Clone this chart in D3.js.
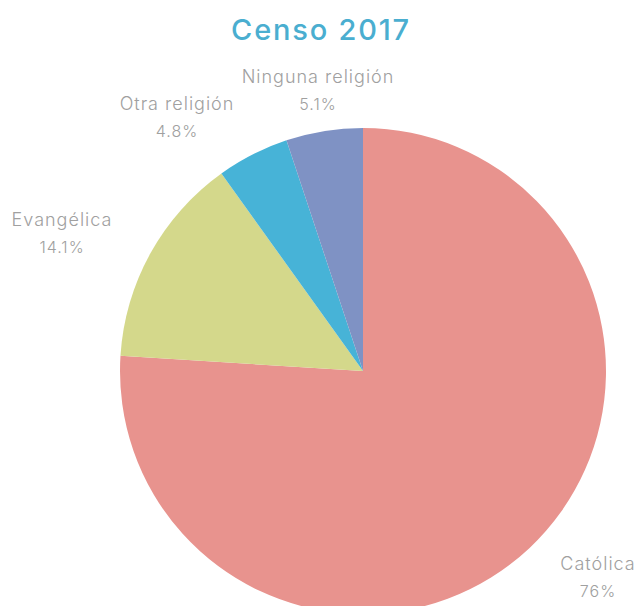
<!DOCTYPE html>
<html><head><meta charset="utf-8">
<script src="https://cdn.jsdelivr.net/npm/d3@7"></script>
<style>html,body{margin:0;padding:0;background:#fff;}svg{display:block;}</style>
</head><body>
<svg id="chart" width="639" height="606"></svg>
<script>
const categories = ["Católica", "Evangélica", "Otra religión", "Ninguna religión"];
const values = [76, 14.1, 4.8, 5.1];
const valueLabels = ["76%", "14.1%", "4.8%", "5.1%"];
const colors = ["#e8938e", "#d4d88b", "#47b3d7", "#7f92c4"];
const titleText = "Censo 2017";

const svg = d3.select("#chart");
const cx = 363, cy = 371, r = 243;
const font = "Inter, 'Open Sans', sans-serif";

svg.append("text").attr("x", 321).attr("y", 40)
  .attr("text-anchor", "middle").attr("font-family", font)
  .attr("font-size", 29).attr("font-weight", 500).attr("letter-spacing", 1.8)
  .attr("fill", "#4aaed0")
  .text(titleText);

const data = categories.map((c, i) => ({ cat: c, value: values[i], label: valueLabels[i], color: colors[i] }));
const pie = d3.pie().value(d => d.value).sort(null);
const arcs = pie(data);
const arc = d3.arc().innerRadius(0).outerRadius(r);

const g = svg.append("g").attr("transform", `translate(${cx},${cy})`);
g.selectAll("path").data(arcs).enter().append("path")
  .attr("d", arc).attr("fill", d => d.data.color);

// label anchor positions (layout only), offsets from the pie centre
const labelPos = [[235, 199], [-301, -145], [-186, -261], [-45, -288]];
const labelG = g.selectAll("g.lbl").data(arcs).enter().append("g").attr("class", "lbl")
  .attr("transform", (d, i) => `translate(${labelPos[i][0]},${labelPos[i][1]})`);
labelG.append("text").attr("text-anchor", "middle").attr("y", 0)
  .attr("font-family", font).attr("font-size", 18).attr("font-weight", 300)
  .attr("letter-spacing", 1).attr("fill", "#a0a0a0")
  .text(d => d.data.cat);
labelG.append("text").attr("text-anchor", "middle").attr("y", 27)
  .attr("font-family", font).attr("font-size", 16).attr("font-weight", 300)
  .attr("letter-spacing", 1).attr("fill", "#a0a0a0")
  .text(d => d.data.label);
</script>
</body></html>
